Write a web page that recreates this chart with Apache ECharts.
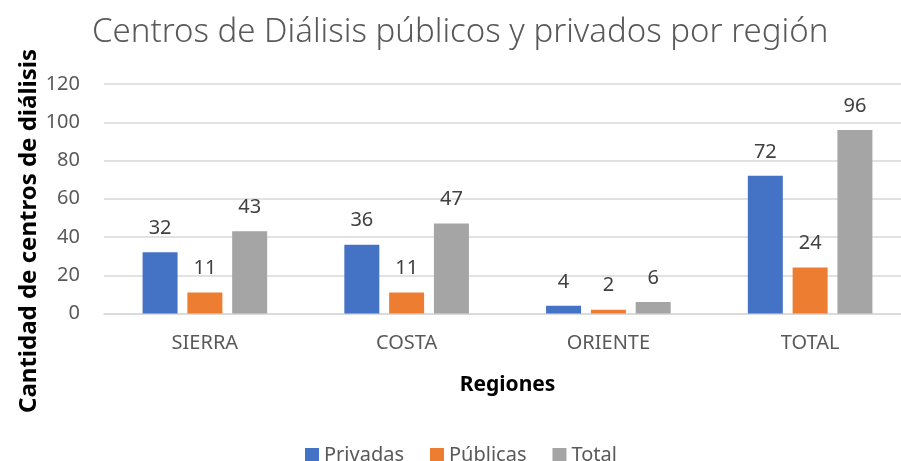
<!DOCTYPE html>
<html>
<head>
<meta charset="utf-8">
<script src="https://cdn.jsdelivr.net/npm/echarts@6/dist/echarts.min.js"></script>
<style>html,body{margin:0;padding:0;background:#fff}#c{width:901px;height:461px}</style>
</head>
<body>
<div id="c"></div>
<script>
const categories = ['SIERRA', 'COSTA', 'ORIENTE', 'TOTAL'];
const privadas = [32, 36, 4, 72];
const publicas = [11, 11, 2, 24];
const total = [43, 47, 6, 96];
const yTicks = [0, 20, 40, 60, 80, 100, 120];

const FONT = 'Noto Sans';
const chart = echarts.init(document.getElementById('c'), null, {renderer: 'canvas'});
const label = {show: true, position: 'top', distance: 14, color: '#404040', fontSize: 20, fontFamily: FONT};
chart.setOption({
  animation: false,
  title: {
    text: 'Centros de Diálisis públicos y privados por región',
    left: 87, top: 11,
    textStyle: {color: '#595959', fontSize: 33, fontWeight: 300, fontFamily: FONT}
  },
  legend: {
    top: 440, left: 300,
    itemWidth: 14, itemHeight: 14, itemGap: 26,
    icon: 'rect',
    textStyle: {color: '#595959', fontSize: 20, fontFamily: FONT}
  },
  graphic: [{
    type: 'text', x: 29, y: 231, rotation: Math.PI / 2,
    style: {
      text: 'Cantidad de centros de diálisis', fill: '#000',
      font: 'bold 24px "Noto Sans"', textAlign: 'center', textVerticalAlign: 'middle'
    }
  }],
  grid: {left: 104, top: 84, width: 807, height: 229.5, containLabel: false, outerBoundsMode: 'none'},
  xAxis: {
    type: 'category', data: categories,
    name: 'Regiones', nameLocation: 'middle', nameGap: 61,
    nameTextStyle: {color: '#000', fontSize: 21, fontWeight: 'bold', fontFamily: FONT},
    axisLine: {lineStyle: {color: '#d9d9d9', width: 1.5}},
    axisTick: {show: false},
    axisLabel: {color: '#595959', fontSize: 20, margin: 20, fontFamily: FONT}
  },
  yAxis: {
    type: 'value', min: yTicks[0], max: yTicks[yTicks.length - 1], interval: 20,
    axisLine: {show: false}, axisTick: {show: false},
    splitLine: {lineStyle: {color: '#d9d9d9', width: 1.5}},
    axisLabel: {color: '#595959', fontSize: 20, margin: 24, fontFamily: FONT}
  },
  series: [
    {name: 'Privadas', type: 'bar', data: privadas, itemStyle: {color: '#4472C4'}, barWidth: 35, barGap: '28%', label},
    {name: 'Públicas', type: 'bar', data: publicas, itemStyle: {color: '#ED7D31'}, barWidth: 35, label},
    {name: 'Total', type: 'bar', data: total, itemStyle: {color: '#A5A5A5'}, barWidth: 35, label}
  ]
});
</script>
</body>
</html>
